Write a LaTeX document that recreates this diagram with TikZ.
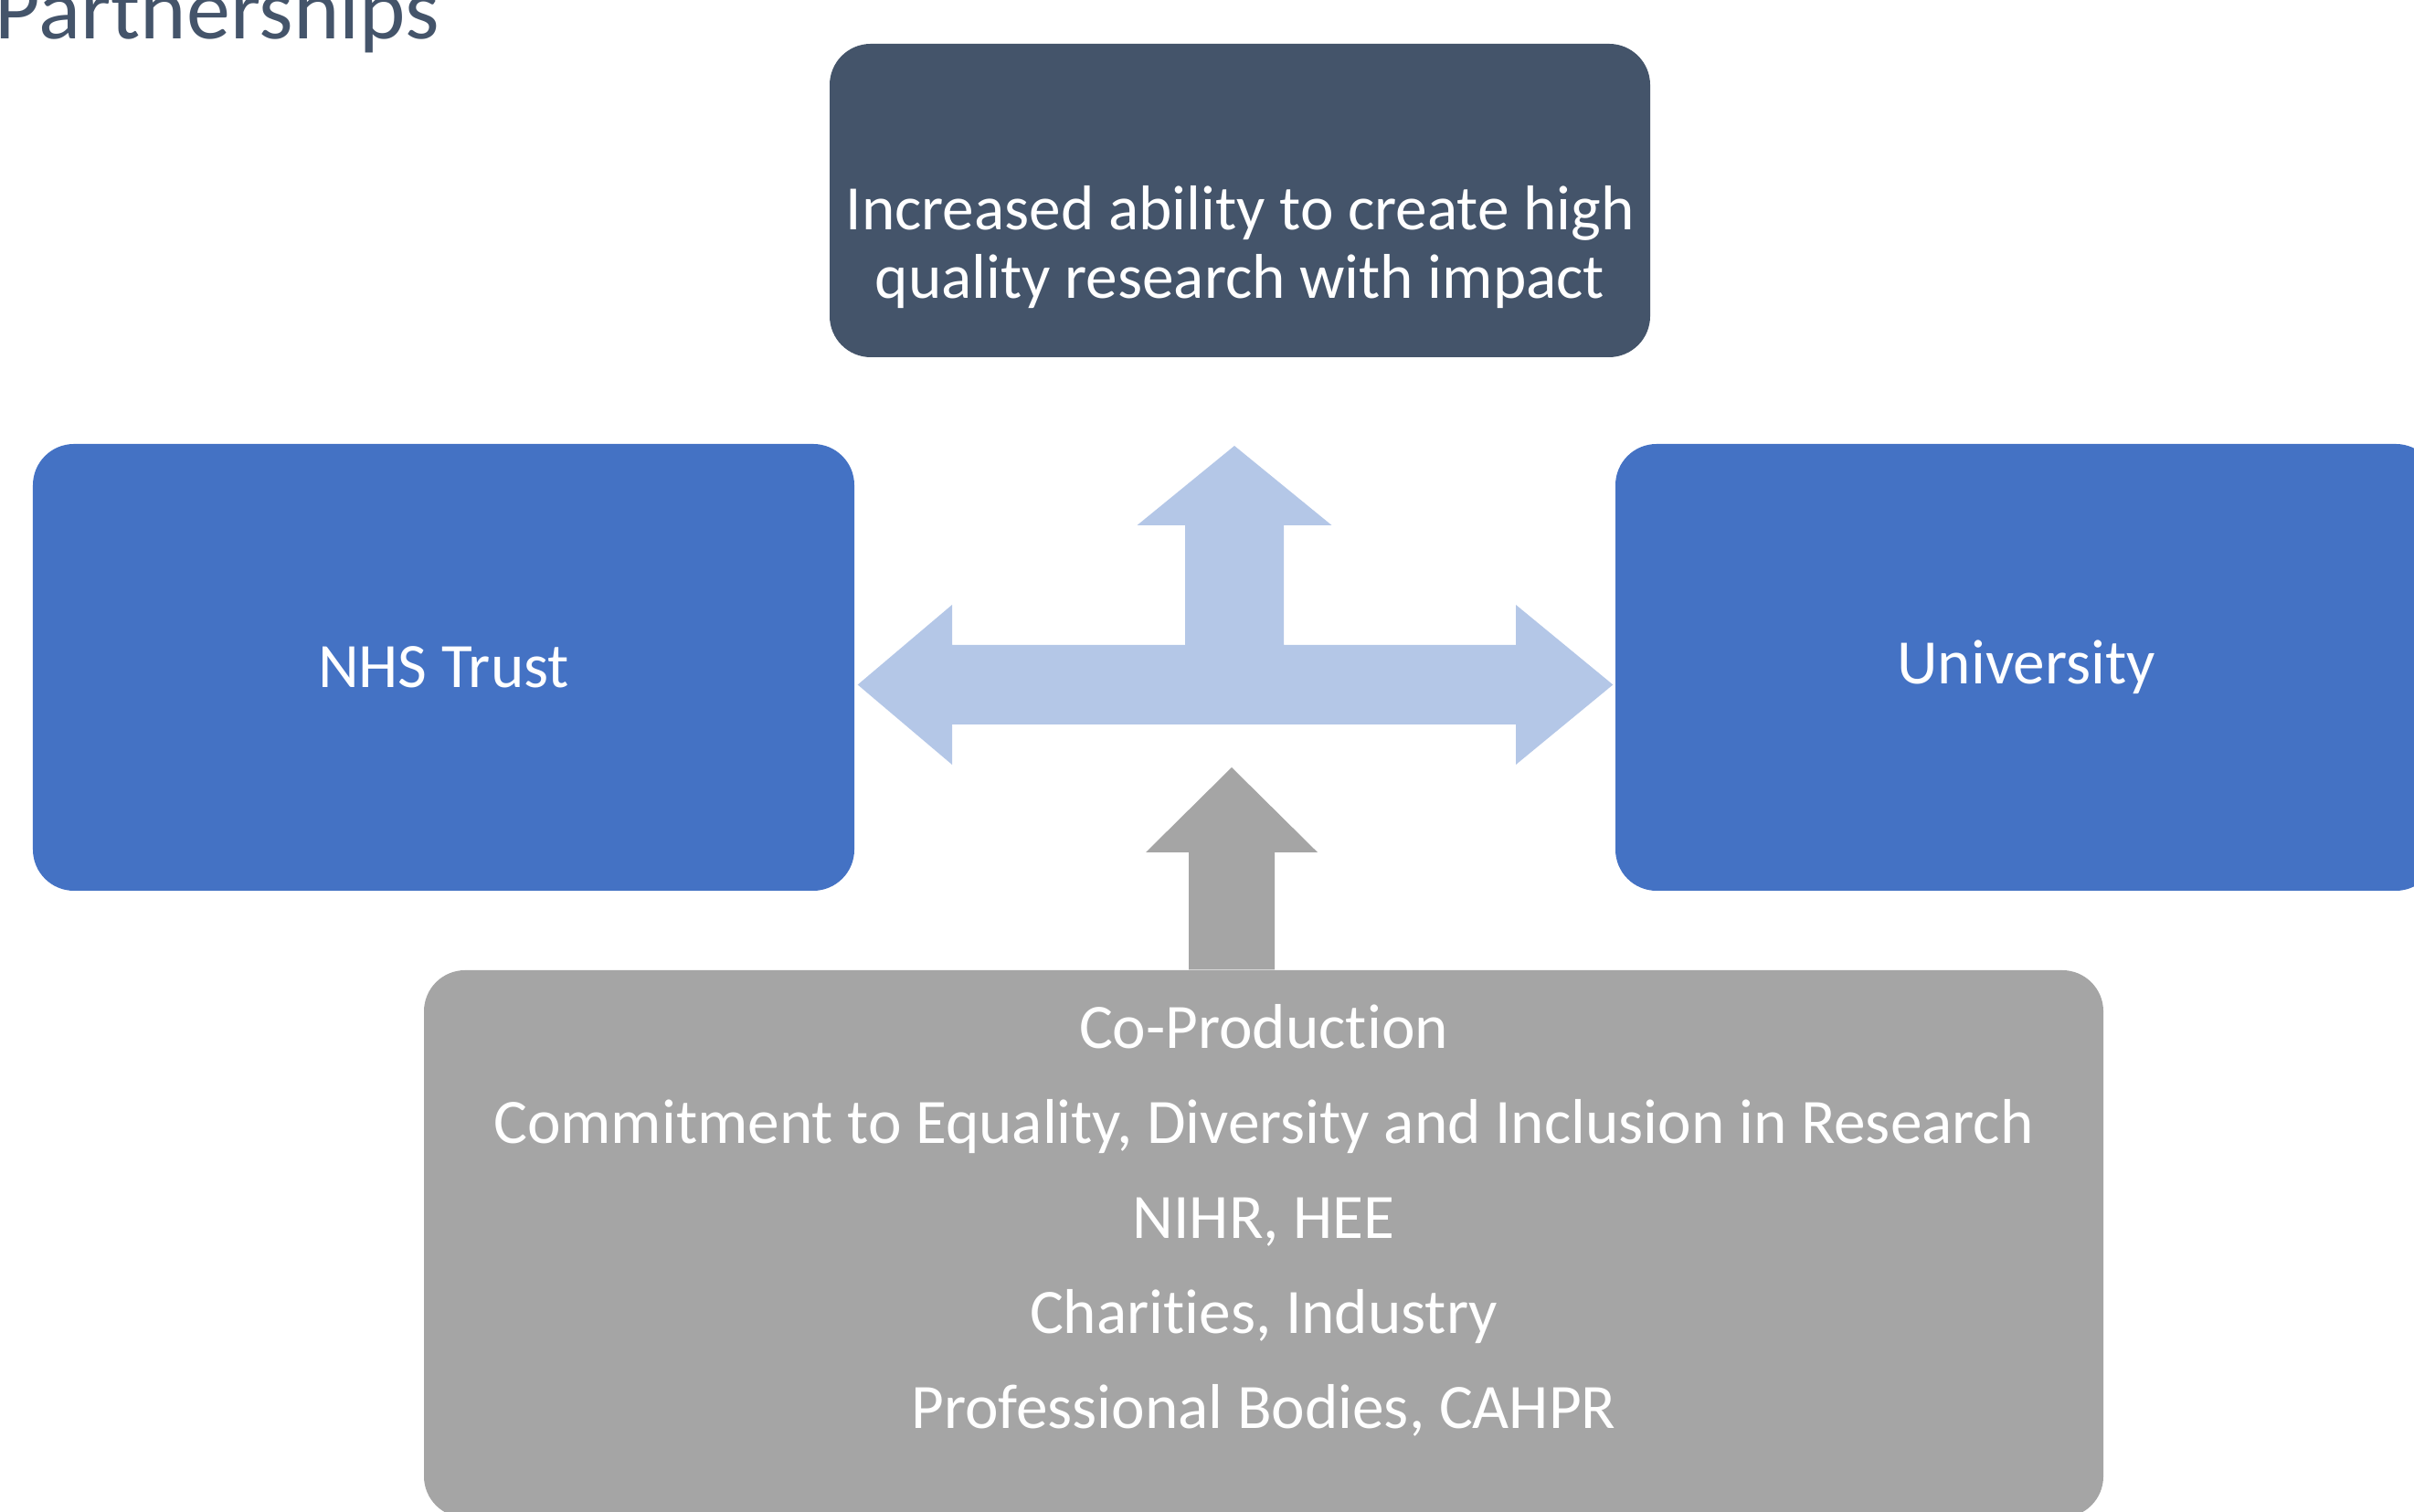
\documentclass[tikz,border=0pt]{standalone}
\usepackage{fontspec}
\setmainfont{Carlito}[Ligatures=NoCommon]
\usetikzlibrary{positioning}

\definecolor{slate}{HTML}{44546A}
\definecolor{boxblue}{HTML}{4472C4}
\definecolor{paleblue}{HTML}{B4C7E7}
\definecolor{midgrey}{HTML}{A5A5A5}

\tikzset{
  panel/.style={rounded corners=0.45cm, inner sep=0pt, text=white, align=center,
    font=\fontsize{19.7}{21.3}\selectfont},
  sidebox/.style={panel, fill=boxblue, minimum width=8.99cm, minimum height=4.89cm},
}

\begin{document}
\begin{tikzpicture}
  \useasboundingbox (0,0) rectangle (26.42,16.55);

  \node[anchor=base west, inner sep=0pt, text=slate, font=\fontsize{27.3}{30}\selectfont]
    (title) at (-0.06,16.12) {Partnerships};

  % outcome at the top
  \node[panel, fill=slate, minimum width=8.98cm, minimum height=3.43cm] (outcome) at (13.57,14.355) {};
  \node[panel] (outcometext) at (13.57,13.84) {Increased ability to create high\\quality research with impact};

  % the two partners
  \node[sidebox] (nhs) at (4.855,9.245) {NHS Trust};
  \node[sidebox] (uni) at (22.175,9.245) {University};

  % what supports them
  \node[panel, fill=midgrey, minimum width=18.38cm, minimum height=5.99cm] (support) at (13.83,2.935) {};
  \node[panel, font=\fontsize{19.7}{29.6}\selectfont] (supporttext) at (13.83,3.19)
    {Co-Production\\
     Commitment to Equality, Diversity and Inclusion in Research\\
     NIHR, HEE\\
     Charities, Industry\\
     Professional Bodies, CAHPR};

  \coordinate (hub) at (13.51,9.055);
  \coordinate (gtip) at (13.48,8.15);

  % three-way arrow
  \begin{scope}[shift={(hub)}]
    \fill[paleblue] ([xshift=0.03cm]nhs.east |- hub) -- (-3.09,0.875) -- (-3.09,0.435)
      -- (-0.54,0.435) -- (-0.54,1.745) -- (-1.065,1.745) -- (0,2.615)
      -- (1.065,1.745) -- (0.54,1.745) -- (0.54,0.435) -- (3.08,0.435) -- (3.08,0.875)
      -- ([xshift=-0.02cm]uni.west |- hub) -- (3.08,-0.875) -- (3.08,-0.435)
      -- (-3.09,-0.435) -- (-3.09,-0.875) -- cycle;
  \end{scope}

  % arrow up from the support box
  \begin{scope}[shift={(gtip)}]
    \fill[midgrey] (0,0) -- (0.94,-0.93) -- (0.47,-0.93) -- (0.47,-0.93 |- support.north)
      -- (-0.47,-0.93 |- support.north) -- (-0.47,-0.93) -- (-0.94,-0.93) -- cycle;
  \end{scope}
\end{tikzpicture}
\end{document}
